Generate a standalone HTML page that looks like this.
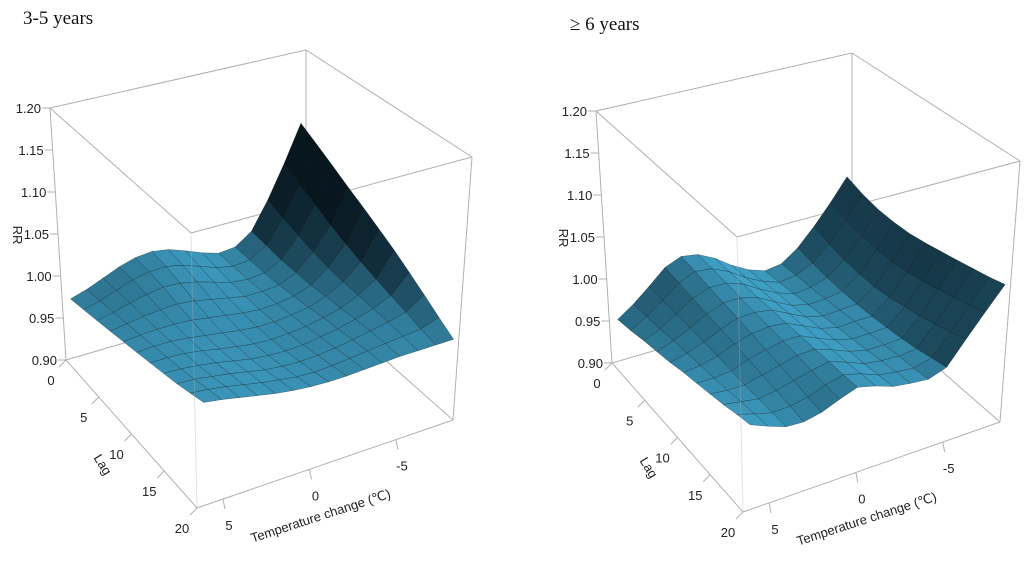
<!DOCTYPE html>
<html><head><meta charset="utf-8">
<style>
html,body{margin:0;padding:0;background:#fff;}
svg{display:block;}
text{font-family:"Liberation Sans",Arial,sans-serif;fill:#222;}
.ttl{font-family:"Liberation Serif","DejaVu Serif",serif;font-size:19px;fill:#111;}
</style></head>
<body>
<svg id="chart" width="1024" height="564" viewBox="0 0 1024 564" xmlns="http://www.w3.org/2000/svg">
<text class="ttl" x="23" y="24">3-5 years</text>
<text class="ttl" x="570" y="30">≥ 6 years</text>
<g id="left"></g>
<g id="right"></g>
</svg>
<script>
const temps=[6,5,4,3,2,1,0,-1,-2,-3,-4,-5,-6,-7,-8];
const lags=[0,2,4,6,8,10,12,14,16,18,20];
const zTicks=[0.90,0.95,1.00,1.05,1.10,1.15,1.20];
const lagTicks=[0,5,10,15,20];
const tempTicks=[5,0,-5];
// 3-5 years: rows by lag, columns by temperature
const rrLeftByLag=[
[.970,.976,.984,.992,.998,1.000,.997,.990,.982,.976,.978,.992,1.025,1.065,1.110],
[.974,.979,.986,.993,.997,.998,.994,.987,.980,.976,.978,.990,1.018,1.054,1.098],
[.978,.982,.987,.992,.995,.994,.990,.984,.978,.976,.978,.988,1.012,1.044,1.086],
[.982,.985,.988,.990,.991,.989,.985,.981,.977,.977,.979,.988,1.007,1.034,1.074],
[.986,.988,.989,.989,.988,.985,.982,.979,.977,.978,.981,.988,1.003,1.026,1.063],
[.990,.991,.991,.989,.986,.983,.980,.978,.978,.980,.983,.990,1.001,1.019,1.052],
[.994,.994,.993,.990,.986,.983,.980,.979,.980,.982,.986,.991,1.000,1.013,1.041],
[.998,.997,.995,.992,.988,.984,.982,.981,.982,.985,.988,.993,.999,1.008,1.029],
[1.002,1.001,.998,.995,.991,.987,.985,.984,.985,.987,.990,.994,.998,1.003,1.017],
[1.007,1.005,1.002,.998,.994,.991,.988,.987,.988,.990,.992,.994,.996,.998,1.005],
[1.012,1.009,1.005,1.001,.997,.994,.992,.991,.991,.992,.993,.994,.994,.994,.994]];
// >=6 years: rows by temperature, columns by lag
const rrRightByTemp=[
[.949,.953,.958,.962,.966,.971,.975,.979,.983,.988,.992],
[.962,.964,.966,.969,.971,.973,.975,.977,.980,.982,.984],
[.978,.978,.978,.978,.978,.978,.977,.977,.977,.977,.977],
[.995,.993,.991,.989,.987,.986,.984,.982,.980,.978,.976],
[1.003,1.001,.998,.996,.994,.992,.989,.987,.985,.982,.980],
[1.000,.999,.998,.996,.995,.994,.993,.992,.990,.989,.988],
[.990,.990,.991,.991,.992,.992,.993,.993,.994,.994,.995],
[.976,.977,.979,.980,.982,.983,.984,.986,.987,.989,.990],
[.965,.967,.969,.970,.972,.974,.976,.978,.979,.981,.983],
[.958,.960,.962,.965,.967,.969,.971,.973,.976,.978,.980],
[.961,.963,.964,.966,.968,.970,.971,.973,.975,.976,.978],
[.975,.972,.970,.969,.969,.970,.972,.974,.977,.981,.985],
[.996,.990,.986,.984,.984,.986,.990,.994,.999,1.004,1.010],
[1.020,1.014,1.010,1.008,1.008,1.010,1.014,1.019,1.024,1.029,1.035],
[1.047,1.040,1.036,1.035,1.036,1.039,1.043,1.047,1.051,1.055,1.060]];

const NS='http://www.w3.org/2000/svg';
function uOf(t){return (6.5-t)/14.8;}
function vOf(l){return l/20;}
function wOf(r){return (r-0.9)/0.3;}
function mk(tag,parent){const e=document.createElementNS(NS,tag);parent.appendChild(e);return e;}

function drawPanel(g,C,getRR){
  function P(u,v,w){
    let x=0,y=0;
    for(const a of [0,1])for(const b of [0,1])for(const c of [0,1]){
      const wt=(a?u:1-u)*(b?v:1-v)*(c?w:1-w);
      const p=C[''+a+b+c];x+=wt*p[0];y+=wt*p[1];
    }
    return [x,y];
  }
  function line(p,q,cls,op){
    const l=mk('line',g);
    
    
    l.setAttribute('x1',p[0]);l.setAttribute('y1',p[1]);l.setAttribute('x2',q[0]);l.setAttribute('y2',q[1]);
    l.setAttribute('stroke','#b0b0b0');l.setAttribute('stroke-width','1');
    if(op)l.setAttribute('opacity',op);
    return l;
  }
  const edges=[['000','001'],['100','101'],['110','111'],['001','011'],['011','111'],['001','101'],['101','111'],['000','100'],['100','110'],['000','010'],['010','110']];
  edges.forEach(e=>line(C[e[0]],C[e[1]],'box-edge'));
  const cells=[];
  for(let i=0;i<temps.length-1;i++)for(let j=0;j<lags.length-1;j++){
    const u0=uOf(temps[i]),u1=uOf(temps[i+1]),v0=vOf(lags[j]),v1=vOf(lags[j+1]);
    const z00=wOf(getRR(i,j)),z10=wOf(getRR(i+1,j)),z01=wOf(getRR(i,j+1)),z11=wOf(getRR(i+1,j+1));
    const k=0.55;
    const dzu=k*((z10-z00)+(z11-z01))/2/(u1-u0);
    const dzv=k*((z01-z00)+(z11-z10))/2/(v1-v0);
    const n=[-dzu,-dzv,1];const nl=Math.hypot(...n);
    const L=[0.75,-0.3,1];const ll=Math.hypot(...L);
    const dot=(n[0]*L[0]+n[1]*L[1]+n[2]*L[2])/nl/ll;
    const b=Math.max(0,Math.min(1,(dot-0.05)/0.92));
    const dk=[8,22,30],lt=[66,168,208];
    const col='rgb('+dk.map((d,q)=>Math.round(d+(lt[q]-d)*b)).join(',')+')';
    const pts=[P(u0,v0,z00),P(u1,v0,z10),P(u1,v1,z11),P(u0,v1,z01)];
    cells.push({d:(u0+u1)/2+(1-(v0+v1)/2),pts,col});
  }
  cells.sort((a,b)=>b.d-a.d);
  cells.forEach(c=>{
    const p=mk('polygon',g);
    
    
    p.setAttribute('points',c.pts.map(q=>q[0].toFixed(1)+','+q[1].toFixed(1)).join(' '));
    p.setAttribute('fill',c.col);
    p.setAttribute('stroke','rgba(0,0,0,0.45)');
    p.setAttribute('stroke-width','0.5');
    p.setAttribute('stroke-linejoin','round');
  });
  line(C['010'],C['011'],'box-edge-front',0.35);
  zTicks.forEach(z=>{
    const p=P(0,0,wOf(z));
    line([p[0]-8,p[1]],p,'z-tick');
    const t=mk('text',g);
    
    
    t.setAttribute('x',p[0]-9);t.setAttribute('y',p[1]+5);t.setAttribute('text-anchor','end');t.setAttribute('font-size','13');
    t.textContent=z.toFixed(2);
  });
  lagTicks.forEach(l=>{
    const p=P(0,vOf(l),0);
    line(p,[p[0]-7,p[1]+7],'lag-tick');
    const t=mk('text',g);
    
    
    t.setAttribute('x',p[0]-15);t.setAttribute('y',p[1]+25);t.setAttribute('text-anchor','middle');t.setAttribute('font-size','13');
    t.textContent=String(l);
  });
  tempTicks.forEach(tv=>{
    const p=P(uOf(tv),1,0);
    line(p,[p[0]+2,p[1]+10],'temp-tick');
    const t=mk('text',g);
    
    
    t.setAttribute('x',p[0]+6);t.setAttribute('y',p[1]+31);t.setAttribute('text-anchor','middle');t.setAttribute('font-size','13');
    t.textContent=String(tv);
  });
  const o=C['000'];
  function label(txt,x,y,rot,name){
    const t=mk('text',g);
    
    
    t.setAttribute('x',x);t.setAttribute('y',y);t.setAttribute('text-anchor','middle');t.setAttribute('font-size','13');
    t.setAttribute('transform','rotate('+rot+' '+x+' '+y+')');
    t.textContent=txt;
  }
  label('RR',o[0]-53,o[1]-125,90,'z-axis-title');
  label('Lag',o[0]+33,o[1]+107,58,'lag-axis-title');
  label('Temperature change (\u2103)',o[0]+256,o[1]+160,-18,'temp-axis-title');
}
const CL={'000':[66,360],'001':[50,108],'010':[197,508],'011':[191,233],'100':[306,290],'101':[306,50],'110':[453,420],'111':[472,157]};
const CR={'000':[612,363],'001':[596,111],'010':[743,512],'011':[737,237],'100':[852,293],'101':[852,53],'110':[1000,422],'111':[1020,161]};
drawPanel(document.getElementById('left'),CL,(i,j)=>rrLeftByLag[j][i]);
drawPanel(document.getElementById('right'),CR,(i,j)=>rrRightByTemp[i][j]);
</script>
</body></html>
